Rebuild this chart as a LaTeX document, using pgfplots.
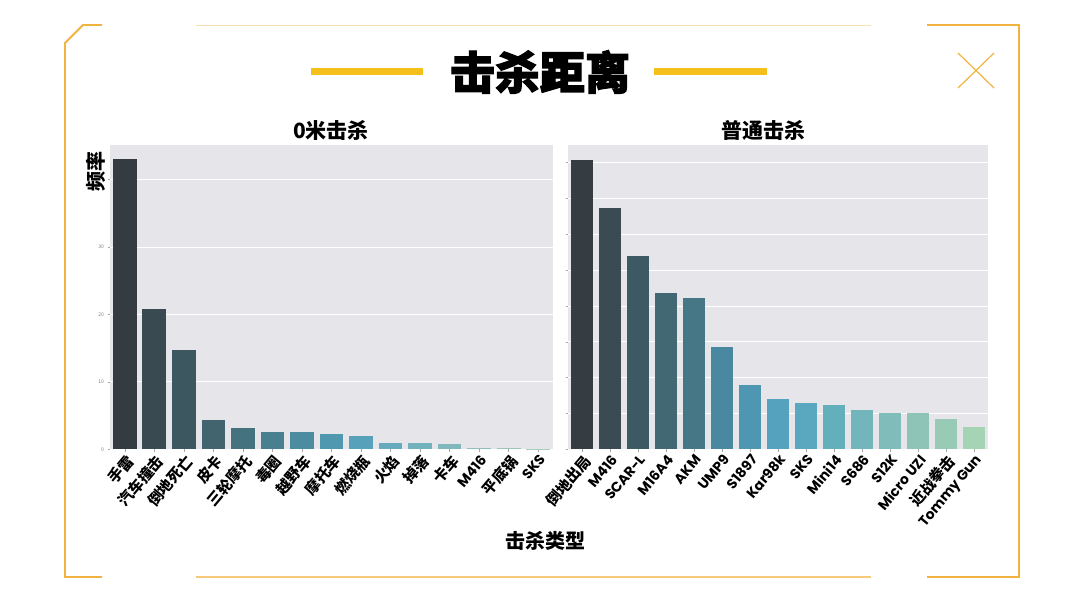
\documentclass[border=0pt]{standalone}
\usepackage{fontspec}
\setmainfont{Noto Sans CJK SC}
\newfontfamily\cjk{Noto Sans CJK SC}
\newfontfamily\cjkheavy{Noto Sans CJK SC}[BoldFeatures={FakeBold=2.5}]
\newfontfamily\lat{Poppins}
\usepackage{pgfplots}
\pgfplotsset{compat=1.18}

\definecolor{frame}{HTML}{F2B441}
\definecolor{gold}{HTML}{F5C01C}
\definecolor{panel}{HTML}{E6E6EA}
% left bars
\definecolor{l1}{HTML}{353C41}
\definecolor{l2}{HTML}{394A51}
\definecolor{l3}{HTML}{3C5760}
\definecolor{l4}{HTML}{41646F}
\definecolor{l5}{HTML}{44727F}
\definecolor{l6}{HTML}{48808F}
\definecolor{l7}{HTML}{4B8CA0}
\definecolor{l8}{HTML}{4F98B0}
\definecolor{l9}{HTML}{57A2BA}
\definecolor{l10}{HTML}{65ABBD}
\definecolor{l11}{HTML}{72B2BC}
\definecolor{l12}{HTML}{80B8BB}
\definecolor{l13}{HTML}{8EBFB9}
\definecolor{l14}{HTML}{9BC6B8}
\definecolor{l15}{HTML}{A8CEB7}
% right bars
\definecolor{r1}{HTML}{353C42}
\definecolor{r2}{HTML}{3A4B53}
\definecolor{r3}{HTML}{3D5A64}
\definecolor{r4}{HTML}{416873}
\definecolor{r5}{HTML}{467787}
\definecolor{r6}{HTML}{4A87A0}
\definecolor{r7}{HTML}{4F96B3}
\definecolor{r8}{HTML}{55A2BE}
\definecolor{r9}{HTML}{5AA8BF}
\definecolor{r10}{HTML}{63B0BC}
\definecolor{r11}{HTML}{72B6BB}
\definecolor{r12}{HTML}{80BCBA}
\definecolor{r13}{HTML}{8EC4B8}
\definecolor{r14}{HTML}{98CBB6}
\definecolor{r15}{HTML}{A5D4B5}

\newcommand\zh[1]{{\cjk\bfseries\fontsize{15pt}{15pt}\selectfont #1}}
\newcommand\en[1]{{\lat\bfseries\fontsize{14pt}{14pt}\selectfont #1}}

\pgfplotsset{
  panelstyle/.style={
    scale only axis, anchor=south west,
    height=304pt,
    xmin=-0.5, xmax=14.5, ymin=0,
    axis background/.style={fill=panel},
    axis x line*=bottom, axis y line*=left,
    axis line style={draw=none},
    ymajorgrids, grid style={white, line width=0.8pt},
    xtick={0,...,14},
    major tick length=2.5pt,
    tick style={gray!70, line width=0.5pt},
    tick align=outside,
    xticklabel style={rotate=50, anchor=north east, inner sep=1pt},
    yticklabel style={font=\fontsize{5pt}{5pt}\selectfont, text=gray},
    /pgf/number format/assume math mode=true,
    ybar, bar width=0.8,
    every axis plot/.append style={draw=none, bar shift=0pt},
  }
}

\begin{document}
\begin{tikzpicture}
\fill[white] (0,0) rectangle (1080pt,-605pt);
\path[use as bounding box] (0,0) rectangle (1080pt,-605pt);

% frame
\begin{scope}[frame, line width=1.8pt]
\draw (102pt,-25pt) -- (83pt,-25pt) -- (65pt,-43pt) -- (65pt,-577pt) -- (102pt,-577pt);
\draw (927pt,-25pt) -- (1019pt,-25pt) -- (1019pt,-577pt) -- (927pt,-577pt);
\draw[frame!40, line width=1pt] (196pt,-25pt) -- (871pt,-25pt);
\draw[frame!70, line width=1.2pt] (196pt,-577pt) -- (871pt,-577pt);
\draw[line width=1.2pt] (958pt,-53pt) -- (994pt,-88pt) (994pt,-53pt) -- (958pt,-88pt);
\end{scope}

% title
\fill[gold] (311pt,-68pt) rectangle (423pt,-75pt);
\fill[gold] (654pt,-68pt) rectangle (767pt,-75pt);
\node[font=\cjkheavy\bfseries\fontsize{45pt}{48pt}\selectfont] at (540pt,-72pt) {击杀距离};

\node[font=\cjk\bfseries\fontsize{21pt}{22pt}\selectfont] at (331pt,-130pt) {0米击杀};
\node[font=\cjk\bfseries\fontsize{21pt}{22pt}\selectfont] at (763pt,-130pt) {普通击杀};
\node[font=\cjk\bfseries\fontsize{20pt}{22pt}\selectfont, rotate=90] at (96pt,-171pt) {频率};
\node[font=\cjk\bfseries\fontsize{20pt}{22pt}\selectfont] at (545pt,-541pt) {击杀类型};

% left panel
\begin{axis}[panelstyle,
  at={(110pt,-449.3pt)}, width=443pt,
  ymax=45.1,
  ytick={0,10,20,30,40}, yticklabels={0,10,20,30,},
  xticklabels={\zh{手雷},\zh{汽车撞击},\zh{倒地死亡},\zh{皮卡},\zh{三轮摩托},
    \zh{毒圈},\zh{越野车},\zh{摩托车},\zh{燃烧瓶},\zh{火焰},\zh{掉落},
    \zh{卡车},\en{M416},\zh{平底锅},\en{SKS}},
]
\addplot[fill=l1] coordinates {(0,43.0)};
\addplot[fill=l2] coordinates {(1,20.8)};
\addplot[fill=l3] coordinates {(2,14.8)};
\addplot[fill=l4] coordinates {(3,4.34)};
\addplot[fill=l5] coordinates {(4,3.2)};
\addplot[fill=l6] coordinates {(5,2.56)};
\addplot[fill=l7] coordinates {(6,2.52)};
\addplot[fill=l8] coordinates {(7,2.3)};
\addplot[fill=l9] coordinates {(8,2.0)};
\addplot[fill=l10] coordinates {(9,0.89)};
\addplot[fill=l11] coordinates {(10,0.89)};
\addplot[fill=l12] coordinates {(11,0.74)};
\addplot[fill=l13] coordinates {(12,0.24)};
\addplot[fill=l14] coordinates {(13,0.15)};
\addplot[fill=l15] coordinates {(14,0.08)};
\end{axis}

% right panel
\begin{axis}[panelstyle,
  at={(568pt,-449.3pt)}, width=420pt,
  ymax=8.48,
  ytick={0,...,8}, yticklabels={},
  xticklabels={\zh{倒地出局},\en{M416},\en{SCAR-L},\en{M16A4},\en{AKM},
    \en{UMP9},\en{S1897},\en{Kar98k},\en{SKS},\en{Mini14},\en{S686},
    \en{S12K},\en{Micro UZI},\zh{近战拳击},\en{Tommy Gun}},
]
\addplot[fill=r1] coordinates {(0,8.08)};
\addplot[fill=r2] coordinates {(1,6.73)};
\addplot[fill=r3] coordinates {(2,5.40)};
\addplot[fill=r4] coordinates {(3,4.37)};
\addplot[fill=r5] coordinates {(4,4.23)};
\addplot[fill=r6] coordinates {(5,2.86)};
\addplot[fill=r7] coordinates {(6,1.79)};
\addplot[fill=r8] coordinates {(7,1.41)};
\addplot[fill=r9] coordinates {(8,1.30)};
\addplot[fill=r10] coordinates {(9,1.23)};
\addplot[fill=r11] coordinates {(10,1.11)};
\addplot[fill=r12] coordinates {(11,1.02)};
\addplot[fill=r13] coordinates {(12,1.00)};
\addplot[fill=r14] coordinates {(13,0.85)};
\addplot[fill=r15] coordinates {(14,0.63)};
\end{axis}
\end{tikzpicture}
\end{document}
